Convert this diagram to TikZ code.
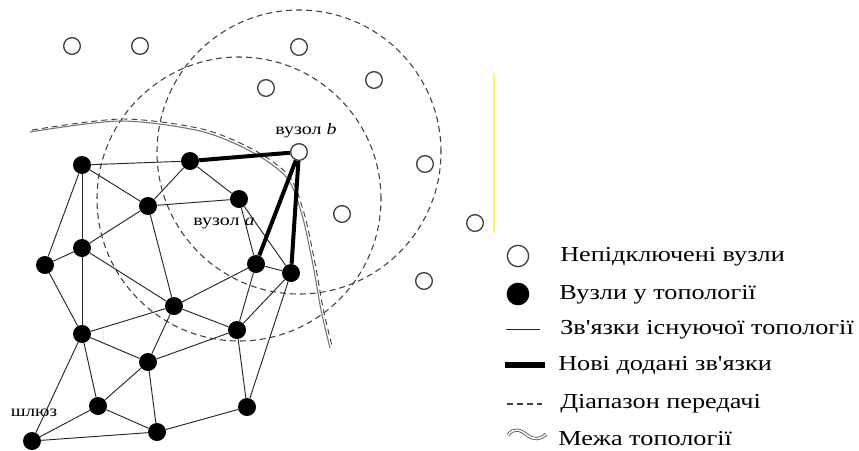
\documentclass[tikz,border=0pt]{standalone}
\usepackage{graphicx}
\usepackage{fontspec}
\setmainfont{Liberation Serif}
\newfontfamily\lserif{Liberation Serif}
\newcommand{\widetxt}[2][1.2]{\scalebox{#1}[1]{#2}}
\usetikzlibrary{positioning}

\begin{document}
\begin{tikzpicture}[x=0.75pt, y=-0.75pt, every node/.style={font=\lserif\fontsize{12}{14}\selectfont},
  tn/.style={circle, fill=black, inner sep=0pt, minimum size=13.5pt},
  un/.style={circle, draw=black!75, line width=1pt, fill=white, inner sep=0pt, minimum size=12.5pt},
  tlink/.style={black!85, line width=0.7pt},
  tnew/.style={black, line width=3pt},
  txrange/.style={black!75, line width=0.8pt, dash pattern=on 4.5pt off 3pt},
  tborder/.style={black!55, line width=0.8pt},
  lgtext/.style={anchor=west, inner sep=0pt, font=\lserif\fontsize{16}{18}\selectfont}]
\useasboundingbox (0,0) rectangle (859,450);

% transmission ranges of node a and node b
\draw[txrange] (299,152) circle [radius=106.5pt];
\draw[txrange] (239,199) circle [radius=106.5pt];

% topology border
\draw[tborder] plot[smooth] coordinates {(30,132) (120,121) (200,131) (252,152) (287,178) (302,215) (313,265) (321,310) (330,348)};
\draw[txrange, line width=0.7pt, shift={(2,-2)}] plot[smooth] coordinates {(30,132) (120,121) (200,131) (252,152) (287,178) (302,215) (313,265) (321,310) (330,348)};

% nodes in the topology
\node[tn] (t1) at (82,165) {};
\node[tn] (t2) at (190,161) {};
\node[tn] (t3) at (148,206) {};
\node[tn] (t4) at (239,199) {};
\node[tn] (t5) at (82,248) {};
\node[tn] (t6) at (45,265) {};
\node[tn] (t7) at (256,264) {};
\node[tn] (t8) at (291,273) {};
\node[tn] (t9) at (174,306) {};
\node[tn] (t10) at (237,330) {};
\node[tn] (t11) at (82,334) {};
\node[tn] (t12) at (148,362) {};
\node[tn] (t13) at (98,406) {};
\node[tn] (t14) at (247,407) {};
\node[tn] (t15) at (157,432) {};
\node[tn] (t16) at (32,441) {};

% unconnected nodes
\node[un] (u1) at (72,46) {};
\node[un] (u2) at (140,46) {};
\node[un] (u3) at (299,47) {};
\node[un] (u4) at (374,80) {};
\node[un] (u5) at (266,88) {};
\node[un] (nb) at (299,152) {};
\node[un] (u6) at (425,164) {};
\node[un] (u7) at (342,214) {};
\node[un] (u8) at (475,223) {};
\node[un] (u9) at (424,281) {};

\foreach \p/\q in {t1/t2, t1/t3, t1/t5, t1/t6, t2/t3, t2/t4, t3/t4, t3/t5, t3/t9,
  t5/t6, t5/t9, t5/t11, t6/t11, t4/t7, t4/t8, t7/t8, t7/t9, t7/t10, t8/t10, t8/t14,
  t9/t10, t9/t11, t9/t12, t10/t12, t10/t14, t11/t12, t11/t13, t11/t16, t12/t13,
  t12/t15, t13/t15, t13/t16, t15/t16, t14/t15}
  \draw[tlink] (\p) -- (\q);

\draw[tnew] (t2) -- (nb);
\draw[tnew] (t7) -- (nb);
\draw[tnew] (t8) -- (nb);

\node (lb) at (306,131) {\widetxt[1.25]{вузол \textit{b}}};
\node (la) at (224,223) {\widetxt[1.25]{вузол \textit{a}}};
\node (lg) at (34,413) {\widetxt[1.2]{шлюз}};

\draw[yellow!60, line width=0.8pt] (494,73) -- (494,233);

% legend
\node[un, minimum size=16pt] (k1) at (518,256) {};
\node[lgtext] (d1) at (560,257) {\widetxt[1.23]{Непідключені вузли}};
\node[tn, minimum size=17pt] (k2) at (518,294) {};
\node[lgtext] (d2) at (559,295) {\widetxt[1.23]{Вузли у топології}};
\draw[tlink] (506,329) -- (540,329);
\node[lgtext] (d3) at (560,330) {\widetxt[1.23]{Зв\textquotesingle язки існуючої топології}};
\draw[tnew, line width=3.8pt] (505,365) -- (545,365);
\node[lgtext] (d4) at (558,365) {\widetxt[1.23]{Нові додані зв\textquotesingle язки}};
\draw[txrange] (507,404) -- (542,404);
\node[lgtext] (d5) at (560,404) {\widetxt[1.23]{Діапазон передачі}};
\draw[black!70, line width=0.6pt, double=white, double distance=1.2pt] (508,435) .. controls (514,427) and (521,430) .. (527,435) .. controls (533,440) and (541,440) .. (546,434);
\node[lgtext] (d6) at (558,439) {\widetxt[1.23]{Межа топології}};
\end{tikzpicture}
\end{document}
